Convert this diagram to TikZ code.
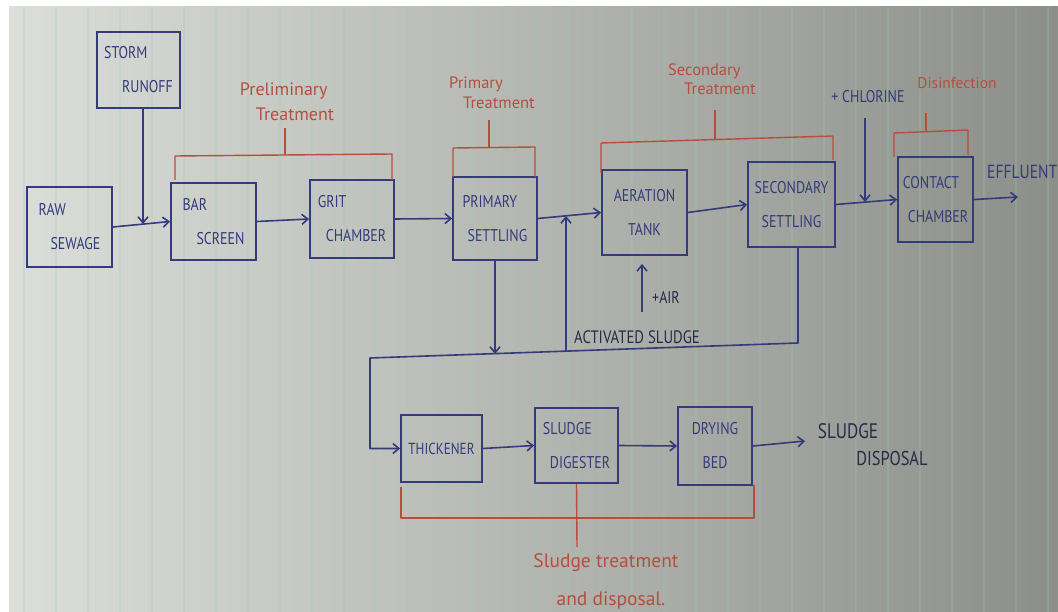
\documentclass[tikz,border=0pt]{standalone}
\usepackage{fontspec}
\setmainfont{PT Sans}
\newfontfamily\handfont[FakeStretch=0.82]{PT Sans}
\usetikzlibrary{arrows.meta,calc}
\definecolor{ink}{RGB}{52,58,122}
\definecolor{darkink}{RGB}{40,42,70}
\definecolor{redink}{RGB}{182,78,62}
\definecolor{bgL}{RGB}{220,223,217}
\definecolor{bgM}{RGB}{194,197,190}
\definecolor{bgR}{RGB}{140,143,137}
\definecolor{rule}{RGB}{160,200,175}
\begin{document}
\begin{tikzpicture}[x=1pt,y=-1pt,
  box/.style={draw=ink,line width=1.8pt,inner sep=0pt,text=ink,font=\handfont\fontsize{17}{34}\selectfont},
  flow/.style={draw=ink,line width=1.6pt,line join=round,-{Straight Barb[length=6pt,width=10pt,line width=1.6pt]}},
  brk/.style={draw=redink,line width=1.4pt,line join=round},
  rlabel/.style={text=redink,inner sep=0pt,font=\fontsize{17}{25}\selectfont,align=left},
  blabel/.style={text=ink,inner sep=0pt,font=\handfont\fontsize{17}{18}\selectfont}]
\useasboundingbox (0,0) rectangle (1058,612);
% background photo of ruled paper
\fill[white] (0,0) rectangle (1058,612);
\shade[left color=bgL, middle color=bgM, right color=bgR] (9,7) rectangle (1058,612);
\foreach \x in {24,56,...,1050} \draw[rule,opacity=0.25,line width=1.2pt] (\x,7) -- (\x,612);

% boxes
\node[box,minimum width=83pt,minimum height=76pt,align=left] (storm) at (138.5,70) {STORM\\\hspace*{18pt}RUNOFF};
\node[box,minimum width=85pt,minimum height=80pt,align=left] (raw) at (69.5,227) {RAW\\\hspace*{12pt}SEWAGE};
\node[box,minimum width=85pt,minimum height=77pt,align=left] (bar) at (213.5,221.5) {BAR\\\hspace*{14pt}SCREEN};
\node[box,minimum width=84pt,minimum height=78pt,align=left] (grit) at (352,219) {GRIT\\\hspace*{8pt}CHAMBER};
\node[box,minimum width=84pt,minimum height=83pt,align=left] (prim) at (495,218.5) {PRIMARY\\\hspace*{5pt}SETTLING};
\node[box,minimum width=85pt,minimum height=85pt,align=center] (aer) at (644.5,212.5) {AERATION\\TANK};
\node[box,minimum width=87pt,minimum height=85pt,align=center] (sec) at (791.5,204.5) {SECONDARY\\SETTLING};
\node[box,minimum width=75pt,minimum height=85pt,align=left] (cont) at (935.5,199.5) {CONTACT\\\hspace*{5pt}CHAMBER};
\node[box,minimum width=81pt,minimum height=67pt,font=\handfont\fontsize{16}{20}\selectfont] (thick) at (441.5,448.5) {THICKENER};
\node[box,minimum width=83pt,minimum height=75pt,align=left] (dig) at (576.5,445.5) {SLUDGE\\\hspace*{7pt}DIGESTER};
\node[box,minimum width=74pt,minimum height=78pt,align=center] (dry) at (715,446) {DRYING\\BED};

% main flow
\coordinate (j1) at (143,224);
\draw[flow] (raw.east) -- (bar.west);
\draw[flow] (storm.south -| j1) -- (j1);
\draw[flow] (bar.east) -- (grit.west);
\draw[flow] (grit.east) -- (prim.west);
\draw[flow] (prim.east) -- (aer.west);
\draw[flow] (aer.east) -- (sec.west);
\draw[flow] (sec.east) -- (cont.west);
\coordinate (chl) at (865,118);
\coordinate (jc) at (865,202);
\draw[flow] (chl) -- (jc);
\node[blabel] (chltxt) at (868,97) {+ CHLORINE};
\coordinate (eff) at (1018,197);
\draw[flow] (cont.east) -- (eff);
\node[blabel,anchor=west,font=\handfont\fontsize{19}{20}\selectfont] (efftxt) at (987,172) {EFFLUENT};

% air
\coordinate (air) at (642,312);
\draw[flow,shorten >=8pt] (air) -- (air |- aer.south);
\node[blabel,text=darkink] (airtxt) at (666,297) {+AIR};

% sludge loop
\coordinate (asR) at (798,343);
\coordinate (asL) at (370,358);
\coordinate (psj) at (495,354);
\coordinate (retj) at (566,351);
\coordinate (retTop) at (566,216);
\draw[flow] (sec.south -| asR) -- (asR) -- (asL) -- (asL |- thick.west) -- (thick.west);
\draw[flow] (prim.south) -- (psj);
\draw[flow] (retj) -- (retTop);
\node[blabel,text=darkink,font=\handfont\fontsize{18}{20}\selectfont] (astxt) at (637,337) {ACTIVATED SLUDGE};

\draw[flow] (thick.east) -- (dig.west);
\draw[flow] (dig.east) -- (dry.west);
\coordinate (sd) at (805,441);
\draw[flow] (dry.east) -- (sd);
\node[blabel,text=darkink,font=\handfont\fontsize{21}{22}\selectfont] (sdtxt1) at (848,431) {SLUDGE};
\node[blabel,text=darkink,font=\handfont\fontsize{20}{22}\selectfont] (sdtxt2) at (892,458) {DISPOSAL};

% red brackets and labels
\draw[brk] (175,180) -- (175,156) -- (392,154) -- (392,180);
\draw[brk] (285,155) -- (285,128);
\node[rlabel,font=\fontsize{18}{25}\selectfont] (prelim) at (287,102) {Preliminary\\\hspace*{16pt}Treatment};

\draw[brk] (453,177) -- (453,148) -- (535,147) -- (535,177);
\draw[brk] (489,148) -- (489,120);
\node[rlabel,font=\fontsize{16.5}{20}\selectfont] (primlbl) at (492,93) {Primary\\\hspace*{14pt}Treatment};

\draw[brk] (601,173) -- (601,143) -- (833,136) -- (833,160);
\draw[brk] (715,140) -- (715,110);
\node[rlabel,font=\fontsize{16.5}{19}\selectfont] (seclbl) at (712,79) {Secondary\\\hspace*{16pt}Treatment};

\draw[brk] (894,157) -- (894,133) -- (968,130) -- (968,155);
\draw[brk] (926,131) -- (926,113);
\node[rlabel,font=\fontsize{15.5}{18}\selectfont] (dislbl) at (957,83) {Disinfection};

\coordinate (slst) at (577,547);
\draw[brk] (401,487) -- (401,518) -- (754,518) -- (754,485);
\draw[brk] (dig.south) -- (slst);
\node[rlabel,align=center,font=\fontsize{19.5}{38}\selectfont] (sllbl) at (606,582) {Sludge treatment\\\hspace*{10pt}and disposal.};
\end{tikzpicture}
\end{document}
